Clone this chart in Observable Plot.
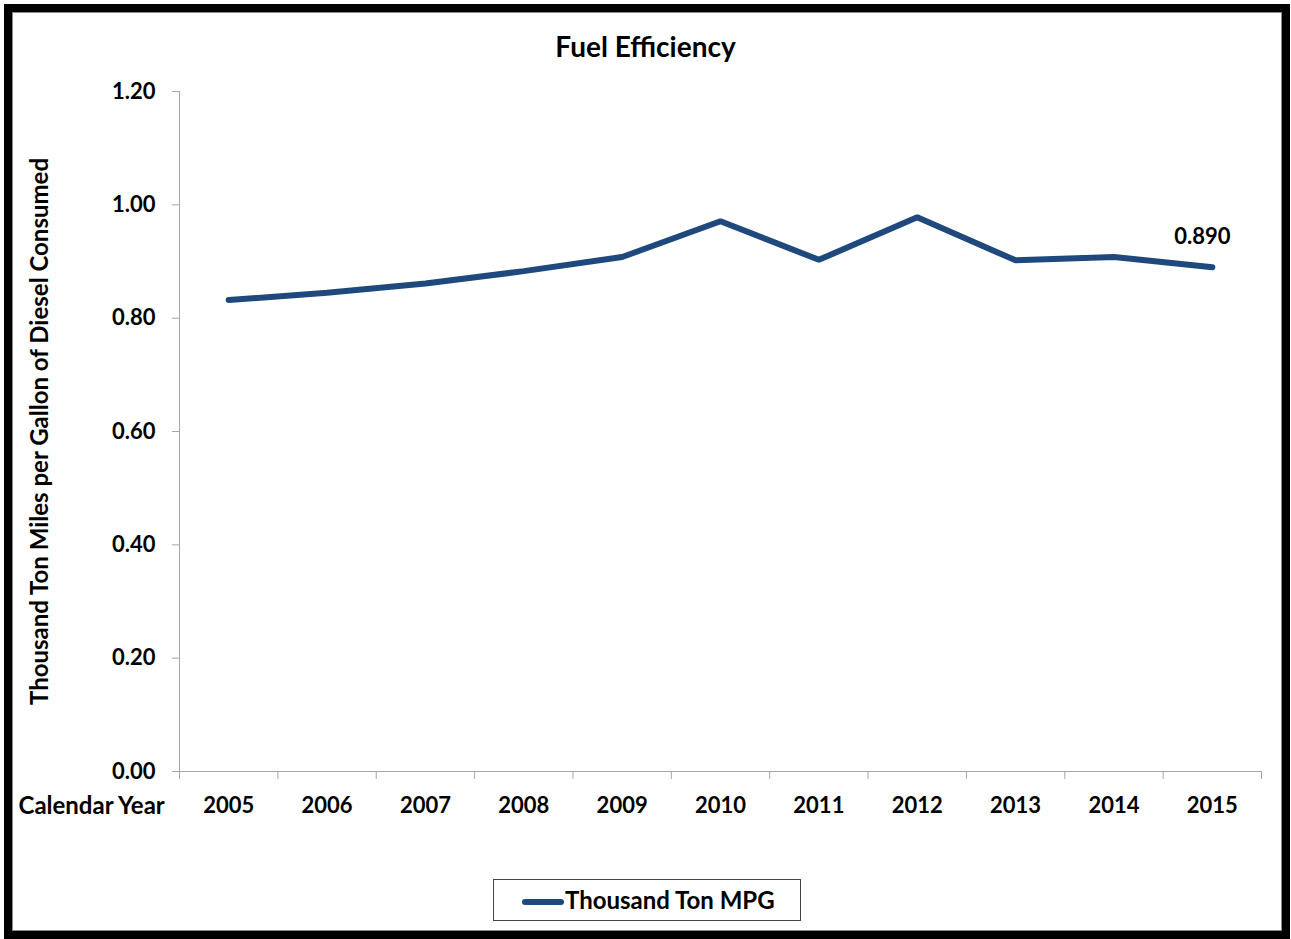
<!DOCTYPE html>
<html>
<head>
<meta charset="utf-8">
<script src="https://cdn.jsdelivr.net/npm/d3@7"></script>
<script src="https://cdn.jsdelivr.net/npm/@observablehq/plot@0.6"></script>
<style>
  html, body { margin: 0; padding: 0; background: #fff; }
  #wrap { position: relative; width: 1291px; height: 939px; overflow: hidden; font-family: Lato, "Open Sans", sans-serif; font-weight: bold; color: #000; }
  #chart { position: absolute; left: 0; top: 0; }
  #frame { position: absolute; left: 4px; top: 4px; width: 1286px; height: 935px; box-sizing: border-box; border: 8px solid #000; box-shadow: inset 1px 1px 0 #888, inset -1px -1px 0 #888; pointer-events: none; }
  #title { position: absolute; left: 0; width: 1291px; top: 30px; height: 32px; line-height: 32px; text-align: center; font-size: 28px; }
  #legend { position: absolute; left: 493px; top: 879px; width: 308px; height: 42px; box-sizing: border-box; border: 1px solid #444; background: #fff; }
  #legend .sw { position: absolute; left: 28px; top: 19px; width: 42px; height: 6px; border-radius: 3px; background: #1F497D; }
  #legend .lb { position: absolute; left: 71px; top: 0; height: 40px; line-height: 40px; font-size: 24px; white-space: nowrap; }
</style>
</head>
<body>
<div id="wrap">
  <div id="chart"></div>
  <div id="title">Fuel Efficiency</div>
  <div id="legend"><span class="sw"></span><span class="lb">Thousand Ton MPG</span></div>
  <div id="frame"></div>
</div>
<script>
const years = [2005, 2006, 2007, 2008, 2009, 2010, 2011, 2012, 2013, 2014, 2015];
const mpg = [0.832, 0.845, 0.861, 0.883, 0.908, 0.971, 0.903, 0.978, 0.902, 0.908, 0.890];
const yTicks = [0, 0.2, 0.4, 0.6, 0.8, 1.0, 1.2];
const yLabel = "Thousand Ton Miles per Gallon of Diesel Consumed";
const xLabel = "Calendar Year";
const seriesName = "Thousand Ton MPG";

const data = years.map((y, i) => ({year: y, value: mpg[i]}));
const boundaries = years.map(y => y - 0.5).concat([years[years.length - 1] + 0.5]);
const axisGray = "#a6a6a6";
const lineColor = "#1F497D";

const chart = Plot.plot({
  width: 1291,
  height: 850,
  marginLeft: 179,
  marginRight: 30,
  marginTop: 91,
  marginBottom: 79,
  style: {fontFamily: "Lato, 'Open Sans', sans-serif", fontWeight: "bold", background: "transparent", overflow: "visible"},
  x: {domain: [years[0] - 0.5, years[years.length - 1] + 0.5]},
  y: {domain: [0, 1.2]},
  marks: [
    Plot.axisY(yTicks, {tickSize: 7, tickFormat: () => "", color: axisGray, label: null}),
    Plot.axisY(yTicks, {tickSize: 0, tickPadding: 24, tickFormat: d => d.toFixed(2), fontSize: 22, color: "#000", label: null}),
    Plot.axisX(boundaries, {tickSize: 8, tickFormat: () => "", color: axisGray, label: null}),
    Plot.axisX(years, {tickSize: 0, tickPadding: 26, tickFormat: d => String(d), fontSize: 22, color: "#000", label: null}),
    Plot.ruleX([years[0] - 0.5], {y1: 0, y2: 1.2, stroke: axisGray}),
    Plot.ruleY([0], {stroke: axisGray}),
    Plot.line(data, {x: "year", y: "value", stroke: lineColor, strokeWidth: 6, strokeLinecap: "round", strokeLinejoin: "miter"}),
    Plot.text(data.slice(-1), {x: "year", y: "value", text: d => d.value.toFixed(3), dx: -10, dy: -30, fontSize: 22, fill: "#000"}),
    Plot.text([yLabel], {frameAnchor: "left", dx: -139, rotate: -90, textAnchor: "middle", lineAnchor: "middle", fontSize: 24, fill: "#000"}),
    Plot.text([xLabel], {frameAnchor: "bottom-left", dx: -161, dy: 35, textAnchor: "start", lineAnchor: "middle", fontSize: 24, fill: "#000"})
  ]
});
document.getElementById("chart").appendChild(chart);
</script>
</body>
</html>
